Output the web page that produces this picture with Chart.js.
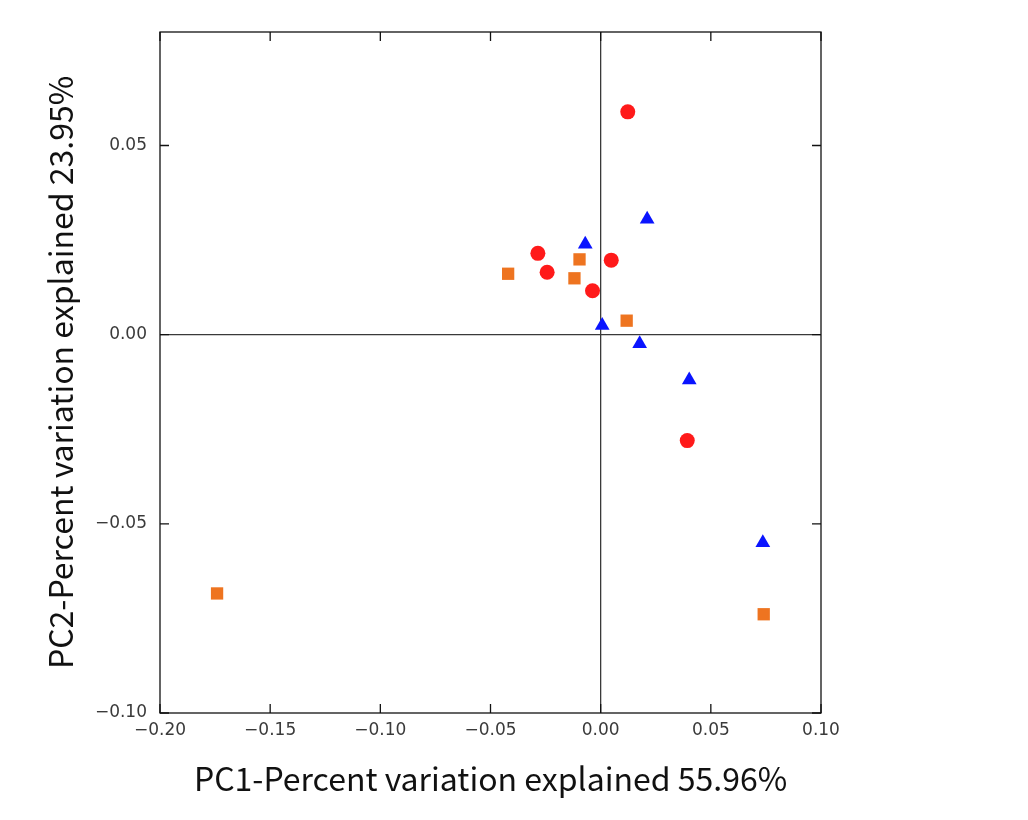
<!DOCTYPE html>
<html>
<head>
<meta charset="utf-8">
<script src="https://cdn.jsdelivr.net/npm/chart.js@4/dist/chart.umd.min.js"></script>
<style>
  html, body { margin: 0; padding: 0; background: #ffffff; }
  #wrap { width: 1028px; height: 820px; }
</style>
</head>
<body>
<div id="wrap"><canvas id="c" width="1028" height="820"></canvas></div>
<script>
// ---- data ----
const groupA_x = [0.0123, -0.0285, -0.0243, 0.0048, -0.0037, 0.0393];   // red circles
const groupA_y = [0.0589, 0.0215, 0.0165, 0.0197, 0.0116, -0.0280];
const groupB_x = [0.0211, -0.0070, 0.0007, 0.0177, 0.0402, 0.0736];     // blue triangles
const groupB_y = [0.0305, 0.0239, 0.0024, -0.0024, -0.0120, -0.0550];
const groupC_x = [-0.0096, -0.0420, -0.0119, 0.0118, -0.1741, 0.0740];  // orange squares
const groupC_y = [0.0199, 0.0161, 0.0149, 0.0037, -0.0684, -0.0739];
const xTicks = [-0.20, -0.15, -0.10, -0.05, 0.00, 0.05, 0.10];
const yTicks = [-0.10, -0.05, 0.00, 0.05];
const xTitle = 'PC1-Percent variation explained 55.96%';
const yTitle = 'PC2-Percent variation explained 23.95%';

function pts(xs, ys) { return xs.map((x, i) => ({ x: x, y: ys[i] })); }
function fmt(v) {
  const s = Math.abs(v) < 1e-9 ? '0.00' : v.toFixed(2);
  return s.replace('-', '\u2212');
}

const frameAndTicks = {
  id: 'frameAndTicks',
  afterDraw(chart) {
    const { ctx, chartArea: a } = chart;
    const xs = chart.scales.x, ys = chart.scales.y;
    const L = 9;
    ctx.save();
    ctx.strokeStyle = '#111111';
    ctx.lineWidth = 1.3;
    ctx.strokeRect(a.left, a.top, a.right - a.left, a.bottom - a.top);
    ctx.beginPath();
    xTicks.forEach(v => {
      const p = xs.getPixelForValue(v);
      ctx.moveTo(p, a.bottom); ctx.lineTo(p, a.bottom - L);
      ctx.moveTo(p, a.top); ctx.lineTo(p, a.top + L);
    });
    yTicks.forEach(v => {
      const p = ys.getPixelForValue(v);
      ctx.moveTo(a.left, p); ctx.lineTo(a.left + L, p);
      ctx.moveTo(a.right, p); ctx.lineTo(a.right - L, p);
    });
    ctx.stroke();
    ctx.restore();
  }
};

const zeroColor = (c) => (c.tick && Math.abs(c.tick.value) < 1e-9) ? '#3a3a3a' : 'rgba(0,0,0,0)';

new Chart(document.getElementById('c'), {
  type: 'scatter',
  data: {
    datasets: [
      { label: 'A', data: pts(groupA_x, groupA_y), pointStyle: 'circle', pointRadius: 7.5,
        backgroundColor: '#ff1a1a', borderColor: '#ff1a1a', borderWidth: 0 },
      { label: 'B', data: pts(groupB_x, groupB_y), pointStyle: 'triangle', pointRadius: 8.5,
        backgroundColor: '#0a14ff', borderColor: '#0a14ff', borderWidth: 0 },
      { label: 'C', data: pts(groupC_x, groupC_y), pointStyle: 'rect', pointRadius: 8.7,
        backgroundColor: '#ee7420', borderColor: '#ee7420', borderWidth: 0 }
    ]
  },
  options: {
    responsive: false,
    animation: false,
    devicePixelRatio: 1,
    layout: { padding: { left: 0, top: 32, right: 207, bottom: 0 } },
    plugins: { legend: { display: false }, tooltip: { enabled: false } },
    scales: {
      x: {
        type: 'linear', min: -0.2, max: 0.1,
        afterBuildTicks: (s) => { s.ticks = xTicks.map(v => ({ value: v })); },
        afterFit: (s) => { s.height = 107; },
        grid: { drawTicks: false, color: zeroColor, lineWidth: 1.3 },
        border: { display: false },
        ticks: { padding: 7, color: '#3a3a3a', font: { family: 'DejaVu Sans', size: 17 },
                 callback: (v) => fmt(v), maxRotation: 0, autoSkip: false },
        title: { display: true, text: xTitle, color: '#111111',
                 font: { family: 'Noto Sans CJK KR', size: 32 }, padding: { top: 0, bottom: 22 } }
      },
      y: {
        type: 'linear', min: -0.1, max: 0.08,
        afterBuildTicks: (s) => { s.ticks = yTicks.map(v => ({ value: v })); },
        afterFit: (s) => { s.width = 160; },
        grid: { drawTicks: false, color: zeroColor, lineWidth: 1.3 },
        border: { display: false },
        ticks: { padding: 13, color: '#3a3a3a', font: { family: 'DejaVu Sans', size: 17 },
                 callback: (v) => fmt(v), autoSkip: false },
        title: { display: true, text: yTitle, color: '#111111',
                 font: { family: 'Noto Sans CJK KR', size: 32 }, padding: { top: 42, bottom: 0 } }
      }
    }
  },
  plugins: [frameAndTicks]
});
</script>
</body>
</html>
